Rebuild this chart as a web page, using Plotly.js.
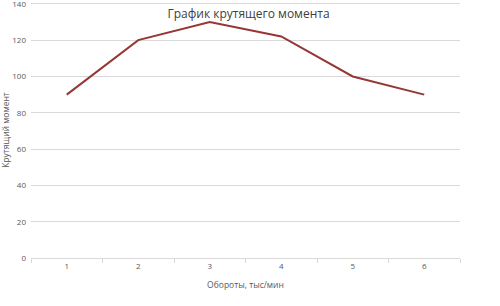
<!DOCTYPE html>
<html>
<head>
<meta charset="utf-8">
<script src="https://cdn.plot.ly/plotly-3.0.1.min.js"></script>
<style>html,body{margin:0;padding:0;background:#fff}#chart{width:500px;height:306px}</style>
</head>
<body>
<div id="chart"></div>
<script>
const rpm = ['1', '2', '3', '4', '5', '6'];
const torque = [90, 120, 130, 122, 100, 90];
const yTicks = [0, 20, 40, 60, 80, 100, 120, 140];

const trace = {
  x: rpm,
  y: torque,
  type: 'scatter',
  mode: 'lines',
  line: {color: '#953735', width: 2},
  hoverinfo: 'x+y'
};

const layout = {
  width: 500,
  height: 306,
  margin: {l: 31, r: 40, t: 2, b: 48},
  paper_bgcolor: '#ffffff',
  plot_bgcolor: '#ffffff',
  showlegend: false,
  font: {family: 'Open Sans, sans-serif', color: '#595959', size: 8},
  title: {
    text: 'График крутящего момента',
    font: {family: 'Open Sans, sans-serif', size: 12, color: '#404040'},
    x: 0.497, xanchor: 'center', y: 0.953, yanchor: 'middle', yref: 'paper'
  },
  xaxis: {
    type: 'category',
    range: [-0.5, 5.5],
    showgrid: false,
    showline: true,
    linecolor: '#d9d9d9',
    linewidth: 1,
    ticks: 'outside',
    tickson: 'boundaries',
    ticklen: 4,
    tickcolor: '#d9d9d9',
    tickfont: {size: 8, color: '#595959'},
    zeroline: false,
    title: {text: 'Обороты, тыс/мин', font: {size: 8.5, color: '#595959'}, standoff: 12}
  },
  yaxis: {
    range: [0, 141],
    tickvals: yTicks,
    ticktext: yTicks.map(String),
    ticklabeloverflow: 'allow',
    showgrid: true,
    gridcolor: '#d9d9d9',
    gridwidth: 1,
    zeroline: false,
    showline: false,
    ticks: '',
    ticklabelstandoff: 4,
    tickfont: {size: 8, color: '#595959'},
    title: {text: 'Крутящий момент', font: {size: 8.5, color: '#595959'}, standoff: 6}
  }
};

Plotly.newPlot('chart', [trace], layout, {displayModeBar: false, staticPlot: true});
</script>
</body>
</html>
